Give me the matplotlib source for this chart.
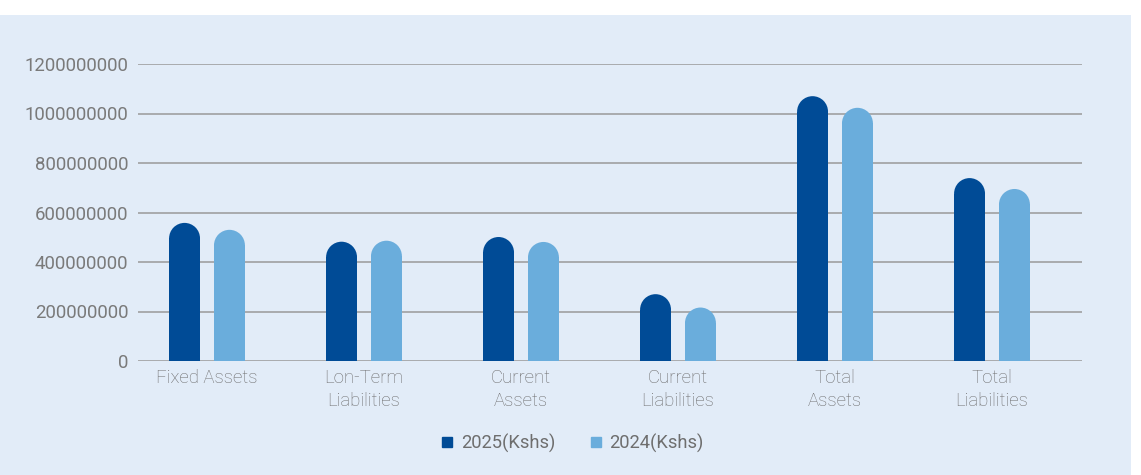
import numpy as np
import matplotlib
matplotlib.use("Agg")
import matplotlib.pyplot as plt
from matplotlib.patches import Rectangle, Ellipse
from matplotlib.lines import Line2D

categories = ["Fixed Assets", "Lon-Term\nLiabilities", "Current\nAssets",
              "Current\nLiabilities", "Total\nAssets", "Total\nLiabilities"]
values_2025 = [558e6, 482e6, 501e6, 270e6, 1070e6, 739e6]
values_2024 = [530e6, 486e6, 481e6, 216e6, 1023e6, 695e6]
series_names = ["2025(Kshs)", "2024(Kshs)"]
yticks = [0, 200000000, 400000000, 600000000, 800000000, 1000000000, 1200000000]

c_dark = "#004B96"
c_light = "#6AADDC"
bg = "#E2ECF8"

plt.rcParams['font.family'] = ['Roboto', 'DejaVu Sans']

W, H = 1141, 475
fig = plt.figure(figsize=(W / 100, H / 100), dpi=100, facecolor="white")
fig.patches.append(Rectangle((0, 0), 1131 / W, 460 / H, transform=fig.transFigure,
                             facecolor=bg, edgecolor="none", zorder=-10))

ax_l, ax_r, ax_b, ax_t = 138, 1082, 361, 64
ax = fig.add_axes([ax_l / W, 1 - ax_b / H, (ax_r - ax_l) / W, (ax_b - ax_t) / H])
ax.set_facecolor("none")
ymax = 1.2e9
ax.set_ylim(0, ymax)
n = len(categories)
# first category centre sits at 207 px, spacing 157 px
step_px = 157.0
x0_px = 207.0
ax.set_xlim(-(x0_px - ax_l) / step_px, (ax_r - x0_px) / step_px)

x = np.arange(n)
bw = 0.197
off = 0.143
px_per_unit = (ax_b - ax_t) / ymax
bw_px = bw * step_px
r_data = (bw_px / 2) / px_per_unit

for vals, sign, col in [(values_2025, -1, c_dark), (values_2024, 1, c_light)]:
    xs = x + sign * off
    body = [v - r_data for v in vals]
    ax.bar(xs, body, width=bw, color=col, zorder=3, linewidth=0)
    for xi, b in zip(xs, body):
        ax.add_patch(Ellipse((xi, b), bw, 2 * r_data, facecolor=col,
                             edgecolor="none", zorder=3, clip_on=False))

ax.set_yticks(yticks)
ax.set_yticklabels([str(v) for v in yticks])
ax.grid(axis="y", color="#999999", linewidth=1.1, zorder=1)
ax.set_axisbelow(True)
ax.set_xticks(x)
ax.set_xticklabels(categories, linespacing=1.3)
for s in ax.spines.values():
    s.set_visible(False)
ax.tick_params(axis="both", length=0, labelsize=13.4)
ax.tick_params(axis="y", pad=7, labelcolor="#7a7a7a")
ax.tick_params(axis="x", pad=6, labelcolor="#6c6c6c")
for lab in ax.get_xticklabels():
    lab.set_fontweight("light")

handles = [Line2D([], [], marker="s", linestyle="none", markersize=7.5,
                  markerfacecolor=c, markeredgecolor=c) for c in (c_dark, c_light)]
fig.legend(handles, series_names, loc="center", bbox_to_anchor=(572 / W, 1 - 443 / H),
           ncol=2, frameon=False, fontsize=13.2, labelcolor="#6e6e6e",
           handletextpad=0.35, columnspacing=1.8, handlelength=0.8)

fig.savefig("out.png", dpi=100, facecolor="white")
